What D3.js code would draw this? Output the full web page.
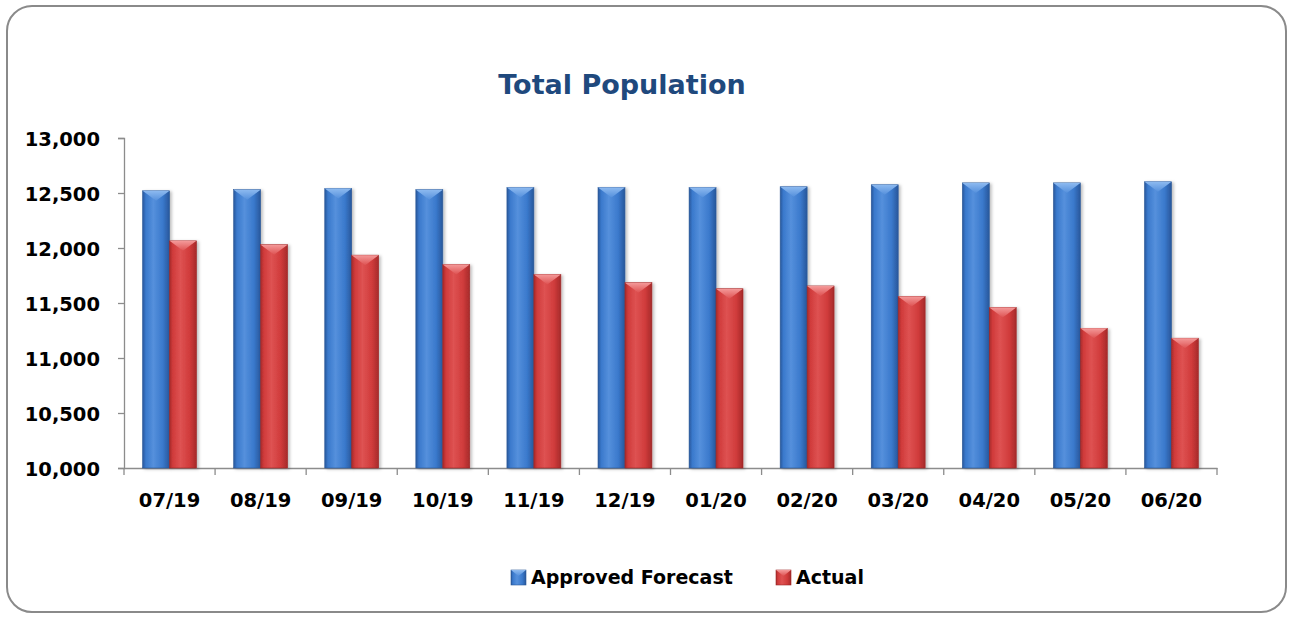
<!DOCTYPE html>
<meta charset="utf-8">
<style>
	body { margin: 0; background: #fff; font-family: "DejaVu Sans", sans-serif; }
	.axis path, .axis line { fill: none; stroke: #8c8c8c; stroke-width: 1.3; }
	.axis text { fill: #000; font-weight: bold; font-size: 19.5px; font-family: "DejaVu Sans", sans-serif; }
	.title { fill: #1f497d; font-weight: bold; font-size: 27px; }
	.legend text { fill: #000; font-weight: bold; font-size: 19px; }
</style>
<body>
<svg id="chart" width="1293" height="618"></svg>

<script src="https://d3js.org/d3.v7.min.js"></script>
<script>
	// data
	var months = ["07/19", "08/19", "09/19", "10/19", "11/19", "12/19", "01/20", "02/20", "03/20", "04/20", "05/20", "06/20"];
	var forecast = [12520, 12530, 12540, 12530, 12550, 12550, 12550, 12557, 12575, 12592, 12592, 12602];
	var actual = [12065, 12030, 11935, 11850, 11760, 11685, 11630, 11655, 11560, 11460, 11270, 11180];
	var seriesNames = ["Approved Forecast", "Actual"];
	var yTicks = [10000, 10500, 11000, 11500, 12000, 12500, 13000];

	var colors = {
		"Approved Forecast": { edge: "#28579b", body: "#3a79cc", light: "#5590dc", cap: "#8dbaf0", line: "#2a5796" },
		"Actual": { edge: "#a62a2a", body: "#d03b3b", light: "#de5252", cap: "#f49a9a", line: "#9c2626" }
	};

	var svg = d3.select("#chart"),
		margin = {top: 138, right: 76, bottom: 150, left: 124},
		width = +svg.attr("width"),
		height = +svg.attr("height");

	var x = d3.scaleBand()
		.domain(months)
		.range([margin.left, width - margin.right])
		.padding(0);

	var xs = d3.scaleBand()
		.domain(seriesNames)
		.range([0, x.bandwidth()])
		.paddingInner(0)
		.paddingOuter(0.69);

	var y = d3.scaleLinear()
		.domain([10000, 13000])
		.range([height - margin.bottom, margin.top]);

	var defs = svg.append("defs");

	seriesNames.forEach(function(s, i) {
		var c = colors[s];
		var g = defs.append("linearGradient").attr("id", "body" + i)
			.attr("x1", "0%").attr("x2", "100%").attr("y1", "0%").attr("y2", "0%");
		g.append("stop").attr("offset", "0%").attr("stop-color", c.edge);
		g.append("stop").attr("offset", "12%").attr("stop-color", c.body);
		g.append("stop").attr("offset", "40%").attr("stop-color", c.light);
		g.append("stop").attr("offset", "75%").attr("stop-color", c.body);
		g.append("stop").attr("offset", "100%").attr("stop-color", c.edge);

		var cg = defs.append("linearGradient").attr("id", "cap" + i)
			.attr("x1", "0%").attr("x2", "0%").attr("y1", "0%").attr("y2", "100%");
		cg.append("stop").attr("offset", "0%").attr("stop-color", c.cap);
		cg.append("stop").attr("offset", "100%").attr("stop-color", c.light);
	});

	var shadow = defs.append("filter").attr("id", "shadow")
		.attr("x", "-20%").attr("y", "-5%").attr("width", "150%").attr("height", "115%");
	shadow.append("feDropShadow").attr("dx", 2).attr("dy", 1).attr("stdDeviation", 1.5)
		.attr("flood-color", "#000").attr("flood-opacity", 0.25);

	// outer frame
	svg.append("rect")
		.attr("x", 7).attr("y", 6)
		.attr("width", width - 14).attr("height", height - 12)
		.attr("rx", 25).attr("ry", 25)
		.attr("fill", "#fff")
		.attr("stroke", "#8a8a8a")
		.attr("stroke-width", 2);

	svg.append("text")
		.attr("class", "title")
		.attr("x", 622)
		.attr("y", 94)
		.attr("text-anchor", "middle")
		.text("Total Population");

	// y axis
	svg.append("g")
		.attr("class", "axis")
		.attr("transform", "translate(" + margin.left + ",0)")
		.call(d3.axisLeft(y).tickValues(yTicks).tickFormat(d3.format(",")).tickSize(6).tickPadding(18).tickSizeOuter(6))
		.selectAll("text").attr("dy", "0.36em");

	// x axis: labels at centres, ticks at category boundaries
	var xAxis = svg.append("g")
		.attr("class", "axis")
		.attr("transform", "translate(0," + y(10000) + ")")
		.call(d3.axisBottom(x).tickSize(0).tickPadding(25).tickSizeOuter(0));

	var bounds = months.map(function(m) { return x(m); }).concat([x.range()[1]]);
	xAxis.selectAll(".bound")
		.data(bounds)
		.enter().append("line")
		.attr("class", "bound")
		.attr("x1", function(d) { return d; })
		.attr("x2", function(d) { return d; })
		.attr("y1", 0)
		.attr("y2", 7);

	// bars
	var rows = months.map(function(m, i) {
		return { month: m, values: [
			{ key: seriesNames[0], idx: 0, value: forecast[i] },
			{ key: seriesNames[1], idx: 1, value: actual[i] }
		]};
	});

	var groups = svg.append("g").selectAll("g.month")
		.data(rows)
		.enter().append("g")
		.attr("class", "month")
		.attr("transform", function(d) { return "translate(" + x(d.month) + ",0)"; });

	var bars = groups.selectAll("g.bar")
		.data(function(d) { return d.values; })
		.enter().append("g")
		.attr("class", "bar")
		.attr("filter", "url(#shadow)");

	bars.append("rect")
		.attr("x", function(d) { return xs(d.key); })
		.attr("y", function(d) { return y(d.value); })
		.attr("width", xs.bandwidth())
		.attr("height", function(d) { return y(10000) - y(d.value); })
		.attr("fill", function(d) { return "url(#body" + d.idx + ")"; })
		.attr("stroke", function(d) { return colors[d.key].line; })
		.attr("stroke-width", 0.6);

	// bevelled top
	bars.append("path")
		.attr("d", function(d) {
			var x0 = xs(d.key), w = xs.bandwidth(), t = y(d.value);
			return "M" + x0 + "," + t + "L" + (x0 + w) + "," + t + "L" + (x0 + w / 2) + "," + (t + 10) + "Z";
		})
		.attr("fill", function(d) { return "url(#cap" + d.idx + ")"; });

	// legend
	var legendItems = [
		{ key: seriesNames[0], idx: 0, x: 511, tx: 531 },
		{ key: seriesNames[1], idx: 1, x: 776, tx: 796 }
	];
	var legend = svg.append("g").attr("class", "legend");
	var li = legend.selectAll("g")
		.data(legendItems)
		.enter().append("g")
		.attr("transform", function(d) { return "translate(" + d.x + ",570)"; });

	li.append("rect")
		.attr("width", 15).attr("height", 15)
		.attr("fill", function(d) { return "url(#body" + d.idx + ")"; })
		.attr("stroke", function(d) { return colors[d.key].line; })
		.attr("stroke-width", 0.6);
	li.append("path")
		.attr("d", "M0,0L15,0L7.5,6Z")
		.attr("fill", function(d) { return "url(#cap" + d.idx + ")"; });

	li.append("text")
		.attr("x", function(d) { return d.tx - d.x; })
		.attr("y", 14)
		.text(function(d) { return d.key; });
</script>
</body>
